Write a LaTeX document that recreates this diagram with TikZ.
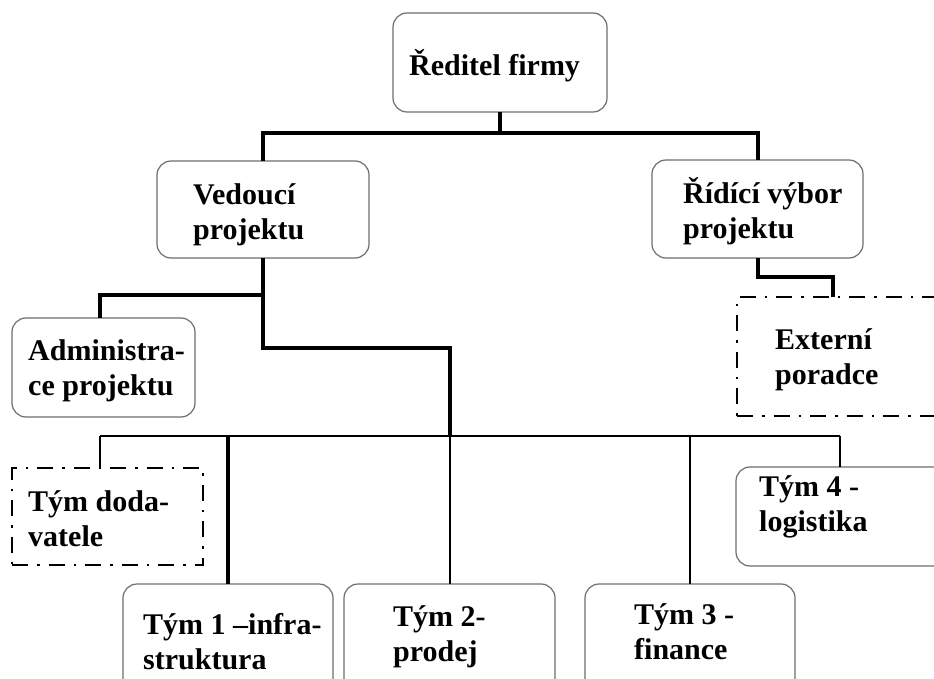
\documentclass[tikz,border=0pt]{standalone}
\usepackage{fontspec}
\setmainfont{Liberation Serif}
\usetikzlibrary{calc}
\definecolor{boxgray}{HTML}{6E6E6E}
\tikzset{
  box/.style={draw=boxgray, line width=1.2pt, rounded corners=14pt,
    inner sep=0pt, outer sep=0pt, anchor=north west},
  extbox/.style={draw=black, line width=2.6pt,
    dash pattern=on 16pt off 9pt on 2.5pt off 9pt,
    inner sep=0pt, outer sep=0pt, anchor=north west},
  lbl/.style={anchor=base west, align=left, inner sep=0pt,
    font=\fontsize{30}{34.5}\selectfont\bfseries},
  heavy/.style={line width=4pt},
  light/.style={line width=2pt},
}

\begin{document}
\begin{tikzpicture}[x=1pt,y=-1pt]
\useasboundingbox (0,0) rectangle (934,679);
\clip (0,0) rectangle (934,679);
\fill[white] (0,0) rectangle (934,679);

% organisation boxes
\node[box, minimum width=214pt, minimum height=99pt] (ceo) at (393,13) {};
\node[box, minimum width=212pt, minimum height=97pt] (ved) at (157,161) {};
\node[box, minimum width=211pt, minimum height=98pt] (rid) at (652,160) {};
\node[box, minimum width=183pt, minimum height=99pt] (adm) at (12,318) {};
\node[extbox, minimum width=260pt, minimum height=119pt] (ext) at (737,297) {};
\node[extbox, minimum width=191pt, minimum height=97pt] (dod) at (12,468) {};
\node[box, minimum width=230pt, minimum height=99pt] (t4) at (736,467) {};
\node[box, minimum width=210pt, minimum height=130pt] (t1) at (123,584) {};
\node[box, minimum width=211pt, minimum height=130pt] (t2) at (344,584) {};
\node[box, minimum width=210pt, minimum height=130pt] (t3) at (585,584) {};

% texts (anchored at the baseline of the last line)
\node[lbl] (l-ceo) at (409,76) {Ředitel firmy};
\node[lbl] (l-ved) at (193,239) {Vedoucí\\projektu};
\node[lbl] (l-rid) at (683,238) {Řídící výbor\\projektu};
\node[lbl] (l-ext) at (775,384) {Externí\\poradce};
\node[lbl] (l-adm) at (28,395) {Administra-\\ce projektu};
\node[lbl] (l-dod) at (28,546) {Tým doda-\\vatele};
\node[lbl] (l-t1) at (143,669) {Tým 1 –infra-\\struktura};
\node[lbl] (l-t2) at (393,661) {Tým 2-\\prodej};
\node[lbl] (l-t3) at (634,659) {Tým 3 -\\finance};
\node[lbl] (l-t4) at (759,531) {Tým 4 -\\logistika};

% junction points
\coordinate (j0) at (500,133);
\coordinate (extIn) at (833,297);
\coordinate (v1) at (263,295);
\coordinate (v2) at (263,348);
\coordinate (admIn) at (100,318);
\coordinate (hub) at (450,436);
\coordinate (busL) at (100,436);
\coordinate (busR) at (840,436);
\coordinate (dodIn) at (100,468);
\coordinate (t4In) at (840,467);

% upper connectors
\draw[heavy] (ceo.south) -- (j0);
\draw[heavy] (ved.north) |- (j0) -| (rid.north);
\draw[heavy] (rid.south) |- ($(extIn)+(0,-20)$) -- (extIn);
\draw[heavy] (ved.south) -- (v1) -| (admIn);
\draw[heavy] (v1) -- (v2) -| (hub);

% team bus
\draw[light] (busL) -- (busR);
\draw[light] (busL) -- (dodIn);
\draw[heavy] (t1.north |- hub) -- (t1.north);
\draw[light] (hub) -- (hub |- t2.north);
\draw[light] (t3.north |- hub) -- (t3.north);
\draw[light] (busR) -- (t4In);
\end{tikzpicture}
\end{document}
